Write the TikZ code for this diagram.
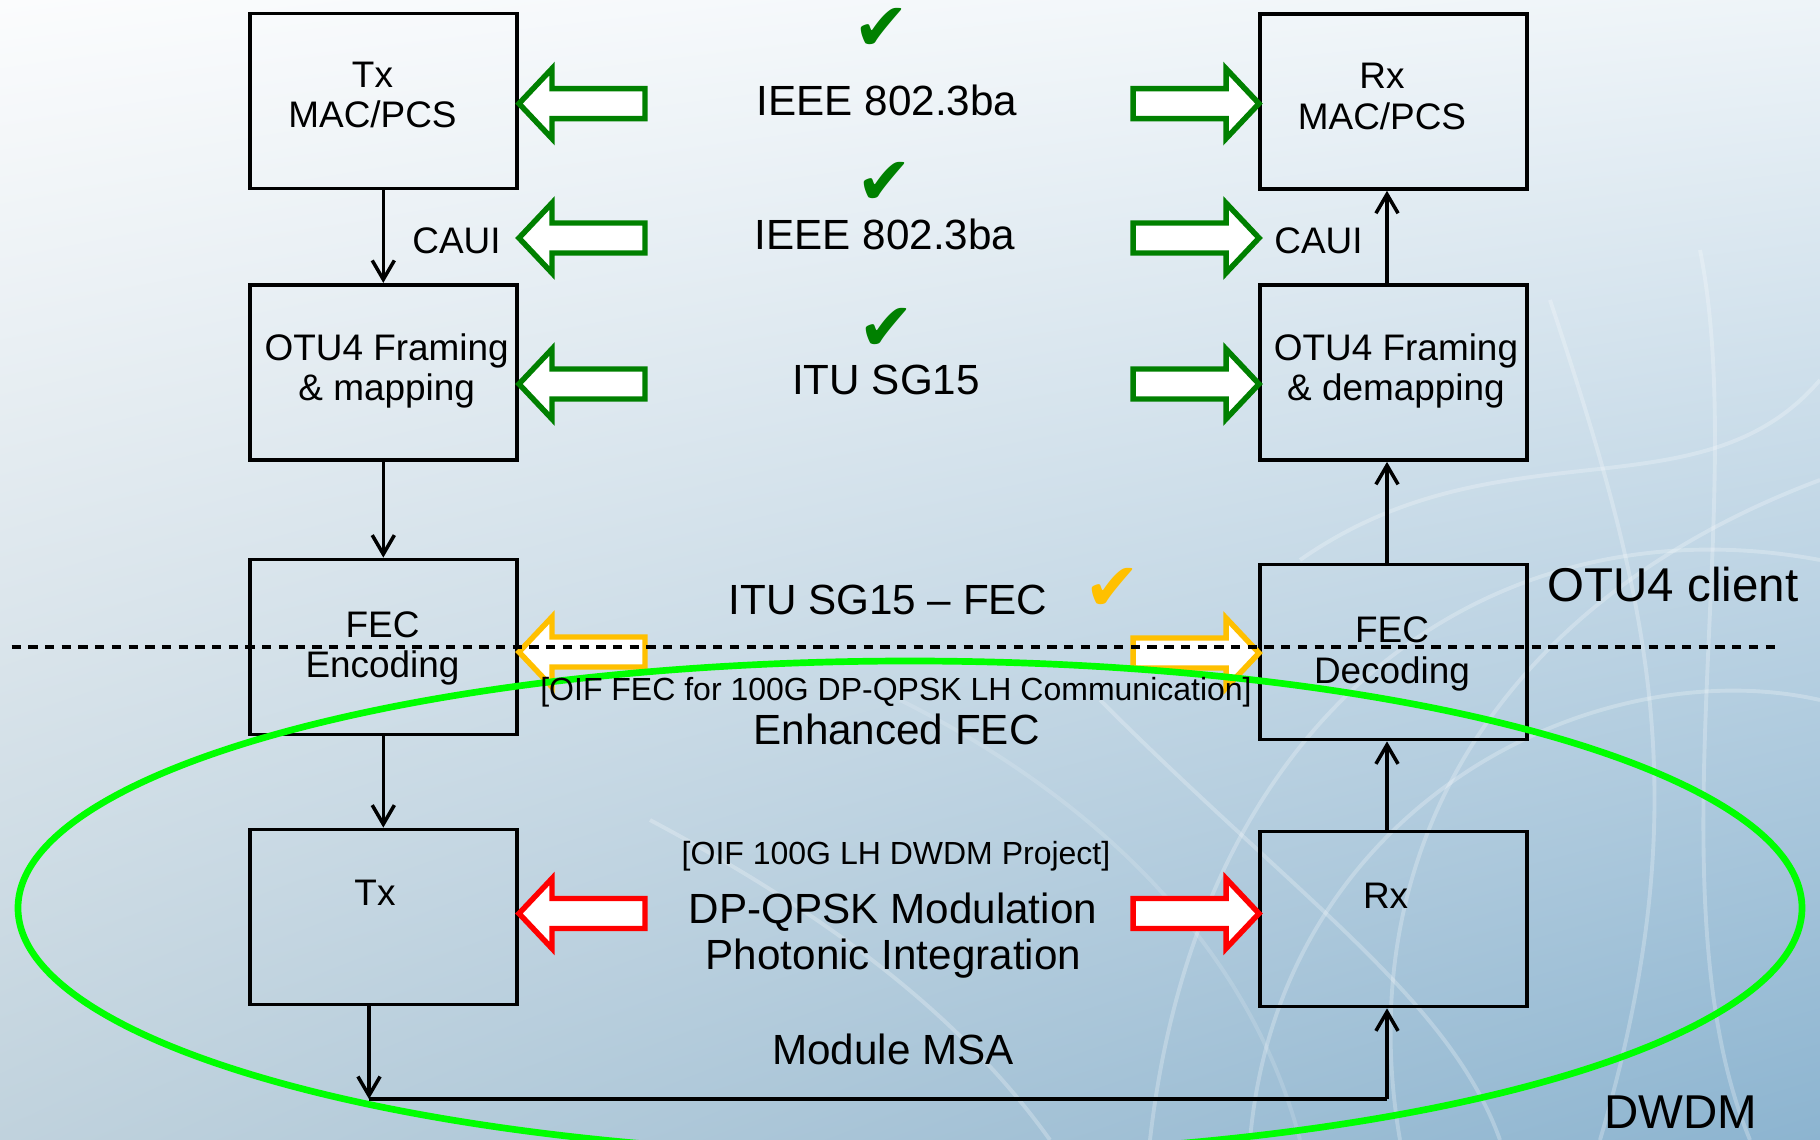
\documentclass[tikz,border=0pt]{standalone}
\usepackage{fontspec}
\setmainfont{Liberation Sans}
\newfontfamily\tickfont{DejaVu Sans}
\usetikzlibrary{arrows.meta,shadings}
\definecolor{arrgreen}{RGB}{0,128,0}
\definecolor{arryellow}{RGB}{255,192,0}
\definecolor{arrred}{RGB}{255,0,0}
\definecolor{ovalgreen}{RGB}{0,255,0}
\definecolor{bgtl}{RGB}{251,252,253}
\definecolor{bgtr}{RGB}{238,244,248}
\definecolor{bgbl}{RGB}{192,210,221}
\definecolor{bgbr}{RGB}{140,180,208}
\tikzset{
  blk/.style={draw=black,line width=1.05pt,minimum width=2.67cm,minimum height=1.75cm,inner sep=0pt},
  boxtxt/.style={inner sep=0pt,align=center,anchor=north,font=\fontsize{10.5}{11.5}\selectfont},
  big/.style={inner sep=0pt,anchor=base,font=\fontsize{12}{14}\selectfont},
  mid/.style={inner sep=0pt,anchor=base,font=\fontsize{10.5}{12}\selectfont},
  small/.style={inner sep=0pt,anchor=base,font=\fontsize{9.1}{11}\selectfont},
  huge/.style={inner sep=0pt,anchor=base,font=\fontsize{13.5}{15}\selectfont},
  tick/.style={inner sep=0pt,font=\tickfont\fontsize{19}{19}\selectfont},
  flow/.style={line width=1pt,-{Straight Barb[length=5.4pt,width=6.3pt]}},
  wire/.style={line width=1.05pt},
  split/.style={line width=0.9pt,dash pattern=on 2.65pt off 2.1pt},
  oval/.style={ovalgreen,line width=1.9pt},
  streak/.style={white,opacity=0.25,line width=1.1pt},
  fatarrow/.pic={
    \draw[pic actions,fill=white,line width=1.56pt,line join=miter]
      (0,0) -- (33,-35) -- (33,-15) -- (126,-15) -- (126,15) -- (33,15) -- (33,35) -- cycle;}
}
\begin{document}
\begin{tikzpicture}[x=0.01cm,y=-0.01cm]
\useasboundingbox (0,0) rectangle (1820,1140);
\shade[upper left=bgtl,upper right=bgtr,lower left=bgbl,lower right=bgbr] (0cm,0cm) rectangle (18.2cm,-11.4cm);
% light streaks in the background
\draw[streak] (1150,1140) .. controls (1200,700) and (1500,500) .. (1820,560);
\draw[streak] (1250,1140) .. controls (1280,800) and (1600,650) .. (1820,700);
\draw[streak] (1400,1140) .. controls (1350,850) and (1500,600) .. (1820,480);
\draw[streak] (1550,300) .. controls (1650,600) and (1700,800) .. (1600,1140);
\draw[streak] (1100,700) .. controls (1300,900) and (1450,1000) .. (1500,1140);
\draw[streak] (1700,250) .. controls (1750,500) and (1650,900) .. (1750,1140);
\draw[streak] (1300,560) .. controls (1500,420) and (1700,520) .. (1820,380);
\draw[streak] (650,820) .. controls (800,900) and (950,1000) .. (1050,1140);
\draw[streak,opacity=0.15] (900,700) .. controls (1100,800) and (1250,950) .. (1300,1140);
% blocks
\node[blk] (txmac) at (383.3,101) {};
\node[blk] (otul) at (383.3,372.3) {};
\node[blk] (fecenc) at (383.3,647) {};
\node[blk] (tx) at (383.3,917) {};
\node[blk] (rxmac) at (1393.5,101.4) {};
\node[blk] (otur) at (1393.5,372.5) {};
\node[blk] (fecdec) at (1393.5,652) {};
\node[blk] (rx) at (1393.5,919) {};
\node[boxtxt] (txmact) at (372.5,61) {Tx\\MAC/PCS};
\node[boxtxt] (otult) at (386.7,333) {OTU4 Framing\\\& mapping};
\node[boxtxt] (fecenct) at (382.5,611) {FEC\\Encoding};
\node[boxtxt] (txt) at (375,879.7) {Tx};
\node[boxtxt] (rxmact) at (1382,62.5) {Rx\\MAC/PCS};
\node[boxtxt] (otutr) at (1396,333) {OTU4 Framing\\\& demapping};
\node[boxtxt] (fecdect) at (1392,616.5) {FEC\\Decoding};
\node[boxtxt] (rxt) at (1385.6,882.6) {Rx};
% signal path
\coordinate (botl) at (369,1099);
\coordinate (botr) at (1387,1099);
\draw[flow] (txmac) -- (otul);
\draw[flow] (otul) -- (fecenc);
\draw[flow] (fecenc) -- (tx);
\draw[flow] (tx.south -| botl) -- (botl);
\draw[wire] (botl) -- (botr);
\draw[flow] (botr) -- (rx.south -| botr);
\draw[flow] (rx.north -| botr) -- (fecdec.south -| botr);
\draw[flow] (fecdec.north -| botr) -- (otur.south -| botr);
\draw[flow] (otur.north -| botr) -- (rxmac.south -| botr);
% fat arrows
\foreach \y in {103.6,238,384} {
  \pic[draw=arrgreen] at (519,\y) {fatarrow};
  \pic[draw=arrgreen,xscale=-1] at (1259,\y) {fatarrow};
}
\pic[draw=arryellow] at (519,652) {fatarrow};
\pic[draw=arryellow,xscale=-1] at (1259,653) {fatarrow};
\pic[draw=arrred] at (519,913.5) {fatarrow};
\pic[draw=arrred,xscale=-1] at (1259,913.5) {fatarrow};
% client / line split
\coordinate (dashl) at (11.6,647);
\coordinate (dashr) at (1778,647);
\draw[split] (dashl) -- (dashr);
\draw[oval] (910,908) ellipse [x radius=892, y radius=247];
% labels
\node[big] (ieeea) at (887,116) {IEEE 802.3ba};
\node[big] (ieeeb) at (885,250) {IEEE 802.3ba};
\node[big] (itu) at (886,395) {ITU SG15};
\node[big] (itufec) at (888,615) {ITU SG15 \textendash{} FEC};
\node[small] (oiffec) at (896,701) {[OIF FEC for 100G DP-QPSK LH Communication]};
\node[big] (enh) at (896.5,745) {Enhanced FEC};
\node[small] (oifdwdm) at (896,865) {[OIF 100G LH DWDM Project]};
\node[big] (dpqpsk) at (893,924) {DP-QPSK Modulation};
\node[big] (photonic) at (893.5,970) {Photonic Integration};
\node[big] (msa) at (893,1064) {Module MSA};
\node[mid] (cauil) at (456.5,253.4) {CAUI};
\node[mid] (cauir) at (1318.5,253.4) {CAUI};
\node[huge] (client) at (1673,601.7) {OTU4 client};
\node[huge] (dwdm) at (1681,1128) {DWDM};
\node[tick,arrgreen] (ticka) at (881,29) {✔};
\node[tick,arrgreen] (tickb) at (884,183) {✔};
\node[tick,arrgreen] (tickc) at (886,329) {✔};
\node[tick,arryellow] (tickd) at (1112,589) {✔};
\end{tikzpicture}
\end{document}
